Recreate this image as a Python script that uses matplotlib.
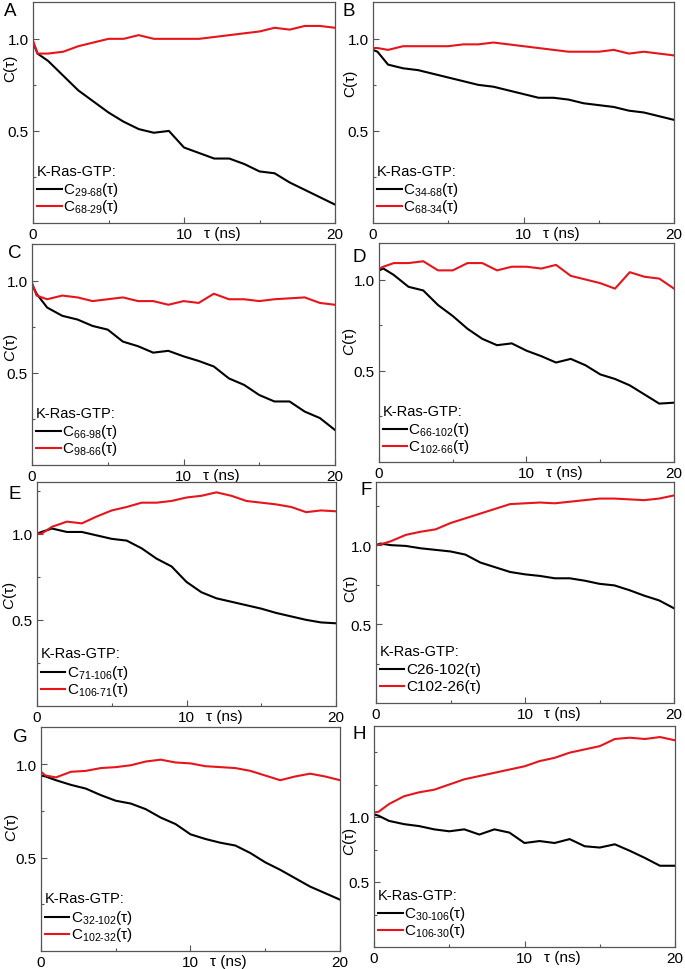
import numpy as np
import matplotlib
matplotlib.use("Agg")
import matplotlib.pyplot as plt

plt.rcParams['font.family'] = ['Liberation Sans', 'DejaVu Sans']
plt.rcParams['mathtext.fontset'] = 'custom'
plt.rcParams['mathtext.rm'] = 'Liberation Sans'
plt.rcParams['mathtext.it'] = 'Liberation Sans:italic'

# time axis (ns), shared by every panel
tau = [0, 0.3, 1, 2, 3, 4, 5, 6, 7, 8, 9, 10, 11, 12, 13, 14, 15, 16, 17, 18, 19, 20]

# C(tau) values, black = first label, red = second label
a_black = [0.98, 0.92, 0.88, 0.80, 0.72, 0.66, 0.60, 0.55, 0.51, 0.49, 0.50, 0.41, 0.38, 0.35, 0.35, 0.32, 0.28, 0.27, 0.22, 0.18, 0.14, 0.10]
a_red = [0.99, 0.92, 0.92, 0.93, 0.96, 0.98, 1.00, 1.00, 1.02, 1.00, 1.00, 1.00, 1.00, 1.01, 1.02, 1.03, 1.04, 1.06, 1.05, 1.07, 1.07, 1.06]
b_black = [0.94, 0.93, 0.86, 0.84, 0.83, 0.81, 0.79, 0.77, 0.75, 0.74, 0.72, 0.70, 0.68, 0.68, 0.67, 0.65, 0.64, 0.63, 0.61, 0.60, 0.58, 0.56]
b_red = [0.95, 0.95, 0.94, 0.96, 0.96, 0.96, 0.96, 0.97, 0.97, 0.98, 0.97, 0.96, 0.95, 0.94, 0.93, 0.93, 0.93, 0.94, 0.92, 0.93, 0.92, 0.91]
c_black = [0.98, 0.93, 0.855, 0.81, 0.79, 0.755, 0.735, 0.67, 0.645, 0.61, 0.62, 0.59, 0.565, 0.535, 0.47, 0.435, 0.38, 0.345, 0.345, 0.29, 0.255, 0.19]
c_red = [0.99, 0.92, 0.90, 0.92, 0.91, 0.89, 0.90, 0.91, 0.89, 0.89, 0.87, 0.89, 0.88, 0.93, 0.90, 0.90, 0.89, 0.90, 0.905, 0.91, 0.88, 0.87]
d_black = [1.05, 1.06, 1.025, 0.96, 0.94, 0.86, 0.80, 0.73, 0.675, 0.64, 0.65, 0.61, 0.58, 0.545, 0.565, 0.53, 0.48, 0.455, 0.42, 0.37, 0.32, 0.325]
d_red = [1.06, 1.07, 1.09, 1.09, 1.10, 1.05, 1.05, 1.09, 1.09, 1.05, 1.07, 1.07, 1.06, 1.08, 1.02, 1.00, 0.98, 0.95, 1.04, 1.015, 1.005, 0.95]
e_black = [1.00, 1.01, 1.03, 1.01, 1.01, 0.99, 0.97, 0.96, 0.915, 0.855, 0.81, 0.72, 0.66, 0.625, 0.605, 0.585, 0.565, 0.54, 0.52, 0.50, 0.485, 0.48]
e_red = [1.00, 1.00, 1.04, 1.07, 1.06, 1.10, 1.135, 1.155, 1.18, 1.18, 1.19, 1.21, 1.22, 1.24, 1.22, 1.19, 1.18, 1.17, 1.155, 1.125, 1.135, 1.13]
f_black = [1.00, 1.01, 1.00, 0.995, 0.98, 0.97, 0.96, 0.94, 0.89, 0.86, 0.83, 0.815, 0.805, 0.79, 0.79, 0.775, 0.755, 0.745, 0.715, 0.68, 0.65, 0.60]
f_red = [1.00, 1.005, 1.025, 1.065, 1.085, 1.10, 1.14, 1.17, 1.20, 1.23, 1.26, 1.265, 1.27, 1.265, 1.275, 1.285, 1.295, 1.295, 1.29, 1.285, 1.295, 1.315]
g_black = [0.94, 0.935, 0.915, 0.89, 0.87, 0.835, 0.805, 0.79, 0.76, 0.715, 0.68, 0.625, 0.60, 0.58, 0.565, 0.525, 0.475, 0.435, 0.39, 0.345, 0.31, 0.275]
g_red = [0.96, 0.94, 0.93, 0.96, 0.965, 0.98, 0.985, 0.995, 1.015, 1.025, 1.01, 1.005, 0.99, 0.985, 0.98, 0.965, 0.94, 0.915, 0.935, 0.95, 0.935, 0.915]
h_black = [1.02, 1.01, 0.97, 0.945, 0.93, 0.905, 0.89, 0.905, 0.865, 0.905, 0.88, 0.80, 0.815, 0.80, 0.83, 0.775, 0.765, 0.79, 0.74, 0.685, 0.625, 0.625]
h_red = [1.035, 1.04, 1.10, 1.16, 1.19, 1.21, 1.25, 1.29, 1.315, 1.34, 1.365, 1.39, 1.43, 1.455, 1.495, 1.52, 1.545, 1.60, 1.61, 1.60, 1.615, 1.59]

letters = ['A', 'B', 'C', 'D', 'E', 'F', 'G', 'H']
black_labels = [r'C$_{\text{29-68}}$(τ)', r'C$_{\text{34-68}}$(τ)', r'C$_{\text{66-98}}$(τ)', r'C$_{\text{66-102}}$(τ)',
                r'C$_{\text{71-106}}$(τ)', 'C26-102(τ)', r'C$_{\text{32-102}}$(τ)', r'C$_{\text{30-106}}$(τ)']
red_labels = [r'C$_{\text{68-29}}$(τ)', r'C$_{\text{68-34}}$(τ)', r'C$_{\text{98-66}}$(τ)', r'C$_{\text{102-66}}$(τ)',
              r'C$_{\text{106-71}}$(τ)', 'C102-26(τ)', r'C$_{\text{102-32}}$(τ)', r'C$_{\text{106-30}}$(τ)']
blacks = [a_black, b_black, c_black, d_black, e_black, f_black, g_black, h_black]
reds = [a_red, b_red, c_red, d_red, e_red, f_red, g_red, h_red]
ytops = [1.2, 1.2, 1.2, 1.2, 1.3, 1.4, 1.2, 1.7]

# layout in pixels: left, right, top, bottom of each axes
boxes = [(33, 335, 3, 224), (373, 674, 3, 224),
         (32, 335, 245, 466), (379, 674, 244, 463),
         (37, 336, 483, 707), (376, 674, 483, 704),
         (41, 340, 728, 952), (374, 675, 727, 948)]
letter_pos = [(4, 12), (343, 12), (8, 254), (353, 258), (8, 495), (360, 491), (13, 738), (353, 735)]
ylab_pos = [(10, 68), (350, 83), (11, 348), (350, 342), (10, 596), (350, 588), (12, 828), (350, 842)]
ylab_italic = [False, False, True, True, True, False, True, True]

W, H = 685, 970
fig = plt.figure(figsize=(W / 100, H / 100), dpi=100)
frame = '#555555'
red = '#e8141c'

for i in range(8):
    l, r, t, b = boxes[i]
    ax = fig.add_axes([l / W, 1 - b / H, (r - l) / W, (b - t) / H])
    ax.plot(tau, blacks[i], color='black', lw=1.5)
    ax.plot(tau, reds[i], color=red, lw=1.5)
    ax.set_xlim(0, 20)
    ax.set_ylim(0, ytops[i])
    ax.set_xticks([0, 10, 20])
    ax.set_xticks([5, 15], minor=True)
    ax.set_yticks([0.5, 1.0])
    ax.set_yticklabels(['0.5', '1.0'])
    minor_y = [v for v in np.arange(0.25, ytops[i], 0.25) if abs(v - 0.5) > 0.01 and abs(v - 1.0) > 0.01]
    ax.set_yticks(minor_y, minor=True)
    ax.tick_params(direction='in', length=4, width=0.8, color=frame, labelsize=11, pad=3)
    ax.tick_params(which='minor', direction='in', length=2.5, width=0.8, color=frame)
    for s in ax.spines.values():
        s.set_color(frame)
        s.set_linewidth(0.9)
    ax.text(0.565, -0.015, 'τ (ns)', transform=ax.transAxes, ha='left', va='top', fontsize=11)

    # hand made legend
    ax.text(0.012, 0.235, 'K-Ras-GTP:', transform=ax.transAxes, ha='left', va='center', fontsize=10.5)
    ax.plot([0.012, 0.095], [0.152, 0.152], color='black', lw=1.5, transform=ax.transAxes, clip_on=False)
    ax.plot([0.012, 0.095], [0.075, 0.075], color=red, lw=1.5, transform=ax.transAxes, clip_on=False)
    ax.text(0.1, 0.152, black_labels[i], transform=ax.transAxes, ha='left', va='center', fontsize=11)
    ax.text(0.1, 0.075, red_labels[i], transform=ax.transAxes, ha='left', va='center', fontsize=11)

    lx, ly = letter_pos[i]
    fig.text(lx / W, 1 - ly / H, letters[i], ha='left', va='center', fontsize=13.5)
    yx, yy = ylab_pos[i]
    ylab = r'$C$(τ)' if ylab_italic[i] else 'C(τ)'
    fig.text(yx / W, 1 - yy / H, ylab, rotation=90, ha='center', va='center', fontsize=11)

fig.savefig('out.png', dpi=100)
